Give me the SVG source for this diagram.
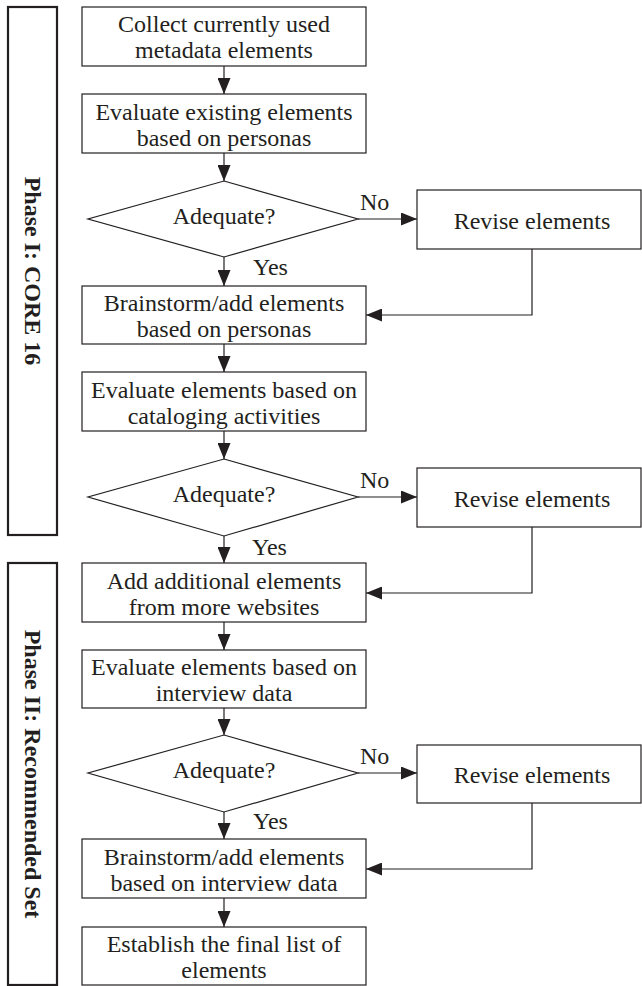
<svg xmlns="http://www.w3.org/2000/svg" width="642" height="986" viewBox="0 0 642 986">
<defs>
<style>
.box{fill:#fff;stroke:#231f20;stroke-width:1.2}
.phase{fill:#fff;stroke:#231f20;stroke-width:2.2}
.t{font-family:"Liberation Serif","Times New Roman",serif;font-size:24px;fill:#231f20;text-anchor:middle}
.l{font-family:"Liberation Serif","Times New Roman",serif;font-size:24px;fill:#231f20}
.pt{font-family:"Liberation Serif","Times New Roman",serif;font-size:24px;font-weight:bold;fill:#231f20;text-anchor:middle}
.c{fill:none;stroke:#231f20;stroke-width:1.2}
</style>
<marker id="ah" viewBox="0 0 16 13" refX="16" refY="6.5" markerWidth="16" markerHeight="13" markerUnits="userSpaceOnUse" orient="auto">
<path d="M0,0 L16,6.5 L0,13 Z" fill="#231f20"/>
</marker>
</defs>
<rect width="642" height="986" fill="#fff"/>

<g id="phase1"><rect class="phase" x="8" y="7" width="49" height="528"/><text class="pt" transform="translate(25,271) rotate(90)">Phase I: CORE 16</text></g>
<g id="phase2"><rect class="phase" x="8" y="563" width="49" height="422"/><text class="pt" transform="translate(25,774) rotate(90)">Phase II: Recommended Set</text></g>

<g id="connectors">
<line class="c" x1="224" y1="66" x2="224" y2="94" marker-end="url(#ah)"/>
<line class="c" x1="224" y1="153" x2="224" y2="181" marker-end="url(#ah)"/>
<line class="c" x1="224" y1="257" x2="224" y2="286" marker-end="url(#ah)"/>
<line class="c" x1="358" y1="219" x2="417" y2="219" marker-end="url(#ah)"/>
<polyline class="c" points="532,249 532,315 366,315" marker-end="url(#ah)"/>
<line class="c" x1="224" y1="344" x2="224" y2="372" marker-end="url(#ah)"/>
<line class="c" x1="224" y1="431" x2="224" y2="459" marker-end="url(#ah)"/>
<line class="c" x1="224" y1="536" x2="224" y2="563" marker-end="url(#ah)"/>
<line class="c" x1="358" y1="497" x2="417" y2="497" marker-end="url(#ah)"/>
<polyline class="c" points="532,527 532,593 366,593" marker-end="url(#ah)"/>
<line class="c" x1="224" y1="622" x2="224" y2="650" marker-end="url(#ah)"/>
<line class="c" x1="224" y1="708" x2="224" y2="735" marker-end="url(#ah)"/>
<line class="c" x1="224" y1="812" x2="224" y2="839" marker-end="url(#ah)"/>
<line class="c" x1="358" y1="773" x2="417" y2="773" marker-end="url(#ah)"/>
<polyline class="c" points="532,803 532,869 366,869" marker-end="url(#ah)"/>
<line class="c" x1="224" y1="898" x2="224" y2="927" marker-end="url(#ah)"/>
<text class="l" x="360" y="210">No</text>
<text class="l" x="253" y="275">Yes</text>
<text class="l" x="360" y="488">No</text>
<text class="l" x="252" y="555">Yes</text>
<text class="l" x="360" y="764">No</text>
<text class="l" x="253" y="829">Yes</text>
</g>

<g id="n1"><rect class="box" x="82" y="7" width="284" height="59"/><text class="t" x="224" y="32">Collect currently used</text><text class="t" x="224" y="58">metadata elements</text></g>
<g id="n2"><rect class="box" x="82" y="94" width="284" height="59"/><text class="t" x="224" y="120">Evaluate existing elements</text><text class="t" x="224" y="146">based on personas</text></g>
<g id="d1"><polygon class="box" points="224,181 358,219 224,257 88,219"/><text class="t" x="224" y="224">Adequate?</text></g>
<g id="r1"><rect class="box" x="417" y="190" width="224" height="59"/><text class="t" x="532" y="229">Revise elements</text></g>
<g id="n3"><rect class="box" x="82" y="286" width="284" height="58"/><text class="t" x="224" y="311">Brainstorm/add elements</text><text class="t" x="224" y="337">based on personas</text></g>
<g id="n4"><rect class="box" x="82" y="372" width="284" height="59"/><text class="t" x="224" y="398">Evaluate elements based on</text><text class="t" x="224" y="424">cataloging activities</text></g>
<g id="d2"><polygon class="box" points="224,459 358,497 224,536 88,497"/><text class="t" x="224" y="502">Adequate?</text></g>
<g id="r2"><rect class="box" x="417" y="468" width="224" height="59"/><text class="t" x="532" y="507">Revise elements</text></g>
<g id="n5"><rect class="box" x="82" y="563" width="284" height="59"/><text class="t" x="224" y="589">Add additional elements</text><text class="t" x="224" y="615">from more websites</text></g>
<g id="n6"><rect class="box" x="82" y="650" width="284" height="58"/><text class="t" x="224" y="675">Evaluate elements based on</text><text class="t" x="224" y="701">interview data</text></g>
<g id="d3"><polygon class="box" points="224,735 358,773 224,812 88,773"/><text class="t" x="224" y="778">Adequate?</text></g>
<g id="r3"><rect class="box" x="417" y="745" width="224" height="58"/><text class="t" x="532" y="783">Revise elements</text></g>
<g id="n7"><rect class="box" x="82" y="839" width="284" height="59"/><text class="t" x="224" y="865">Brainstorm/add elements</text><text class="t" x="224" y="891">based on interview data</text></g>
<g id="n8"><rect class="box" x="82" y="927" width="284" height="58"/><text class="t" x="224" y="952">Establish the final list of</text><text class="t" x="224" y="978">elements</text></g>
</svg>
